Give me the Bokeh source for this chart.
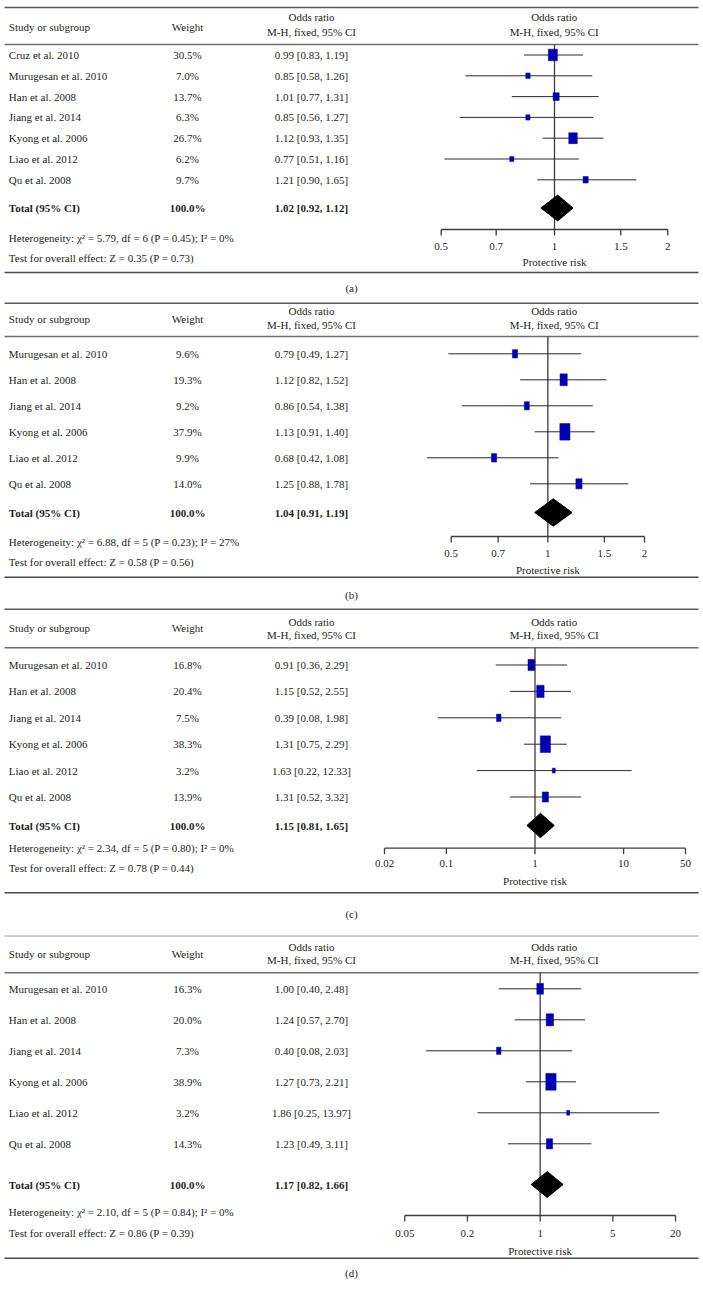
import math
from bokeh.plotting import figure
from bokeh.models import Range1d, LogScale, ColumnDataSource
from bokeh.core.properties import value
from bokeh.embed import file_html
from bokeh.resources import INLINE

# ---------------- data ----------------
a_studies = ["Cruz et al. 2010", "Murugesan et al. 2010", "Han et al. 2008", "Jiang et al. 2014",
             "Kyong et al. 2006", "Liao et al. 2012", "Qu et al. 2008"]
a_weight = [30.5, 7.0, 13.7, 6.3, 26.7, 6.2, 9.7]
a_or = [0.99, 0.85, 1.01, 0.85, 1.12, 0.77, 1.21]
a_lo = [0.83, 0.58, 0.77, 0.56, 0.93, 0.51, 0.90]
a_hi = [1.19, 1.26, 1.31, 1.27, 1.35, 1.16, 1.65]
a_total = [1.02, 0.92, 1.12]
a_het = "Heterogeneity: χ² = 5.79, df = 6 (P = 0.45); I² = 0%"
a_test = "Test for overall effect: Z = 0.35 (P = 0.73)"
a_ticks = [0.5, 0.7, 1, 1.5, 2]

bcd_studies = ["Murugesan et al. 2010", "Han et al. 2008", "Jiang et al. 2014",
               "Kyong et al. 2006", "Liao et al. 2012", "Qu et al. 2008"]

b_weight = [9.6, 19.3, 9.2, 37.9, 9.9, 14.0]
b_or = [0.79, 1.12, 0.86, 1.13, 0.68, 1.25]
b_lo = [0.49, 0.82, 0.54, 0.91, 0.42, 0.88]
b_hi = [1.27, 1.52, 1.38, 1.40, 1.08, 1.78]
b_total = [1.04, 0.91, 1.19]
b_het = "Heterogeneity: χ² = 6.88, df = 5 (P = 0.23); I² = 27%"
b_test = "Test for overall effect: Z = 0.58 (P = 0.56)"
b_ticks = [0.5, 0.7, 1, 1.5, 2]

c_weight = [16.8, 20.4, 7.5, 38.3, 3.2, 13.9]
c_or = [0.91, 1.15, 0.39, 1.31, 1.63, 1.31]
c_lo = [0.36, 0.52, 0.08, 0.75, 0.22, 0.52]
c_hi = [2.29, 2.55, 1.98, 2.29, 12.33, 3.32]
c_total = [1.15, 0.81, 1.65]
c_het = "Heterogeneity: χ² = 2.34, df = 5 (P = 0.80); I² = 0%"
c_test = "Test for overall effect: Z = 0.78 (P = 0.44)"
c_ticks = [0.02, 0.1, 1, 10, 50]

d_weight = [16.3, 20.0, 7.3, 38.9, 3.2, 14.3]
d_or = [1.00, 1.24, 0.40, 1.27, 1.86, 1.23]
d_lo = [0.40, 0.57, 0.08, 0.73, 0.25, 0.49]
d_hi = [2.48, 2.70, 2.03, 2.21, 13.97, 3.11]
d_total = [1.17, 0.82, 1.66]
d_het = "Heterogeneity: χ² = 2.10, df = 5 (P = 0.84); I² = 0%"
d_test = "Test for overall effect: Z = 0.86 (P = 0.39)"
d_ticks = [0.05, 0.2, 1, 5, 20]

panel_labels = ["(a)", "(b)", "(c)", "(d)"]
hdr_study = "Study or subgroup"
hdr_weight = "Weight"
hdr_or1 = "Odds ratio"
hdr_or2 = "M-H, fixed, 95% CI"
total_label = "Total (95% CI)"
total_weight = "100.0%"
axis_title = "Protective risk"

panels = [
    dict(studies=a_studies, w=a_weight, orr=a_or, lo=a_lo, hi=a_hi, tot=a_total, het=a_het, test=a_test, ticks=a_ticks),
    dict(studies=bcd_studies, w=b_weight, orr=b_or, lo=b_lo, hi=b_hi, tot=b_total, het=b_het, test=b_test, ticks=b_ticks),
    dict(studies=bcd_studies, w=c_weight, orr=c_or, lo=c_lo, hi=c_hi, tot=c_total, het=c_het, test=c_test, ticks=c_ticks),
    dict(studies=bcd_studies, w=d_weight, orr=d_or, lo=d_lo, hi=d_hi, tot=d_total, het=d_het, test=d_test, ticks=d_ticks),
]

# ---------------- layout (pixel positions on the page) ----------------
layouts = [
    dict(top=7, top_col="#5a5a5a", top_w=1.4, oddsy=16.5, hdry=26, mhy=31.5, hline=44, row0=54.5, step=20.8,
         toty=207.5, hety=237, testy=257, axy=229, ticky=245.7, proty=261.7, bot=272, laby=287,
         px=(440.7, 667.3), hf=2.1, dh=13),
    dict(top=302.7, top_col="#5a5a5a", top_w=1.4, oddsy=310.7, hdry=318.3, mhy=324, hline=336, row0=353.3, step=26,
         toty=512, hety=541.7, testy=561.7, axy=536, ticky=553.3, proty=569.3, bot=576.7, laby=594,
         px=(450.7, 644.0), hf=2.7, dh=13.7),
    dict(top=608.7, top_col="#5a5a5a", top_w=1.4, oddsy=621.3, hdry=627.3, mhy=634.3, hline=647.3, row0=664.5, step=26.4,
         toty=825, hety=847.7, testy=867.3, axy=847.7, ticky=863.3, proty=880, bot=892.3, laby=913.3,
         px=(384.0, 685.0), hf=2.7, dh=12.2),
    dict(top=935.5, top_col="#9a9a9a", top_w=1.0, oddsy=946, hdry=953.3, mhy=959.3, hline=972.3, row0=988.3, step=31,
         toty=1184, hety=1211, testy=1232, axy=1215, ticky=1232.7, proty=1250, bot=1257.7, laby=1272.7,
         px=(404.3, 675.0), hf=2.7, dh=13),
]

W, H = 703, 1295
TXT = "#231f20"
FONT = value("Liberation Serif")
FS = "11px"
SQ = "#0000b0"

extra_ranges = {}
extra_scales = {}
for i, (pn, lay) in enumerate(zip(panels, layouts)):
    t0, t1 = pn["ticks"][0], pn["ticks"][-1]
    p0, p1 = lay["px"]
    dec = (p1 - p0) / math.log10(t1 / t0)
    start = t0 * 10 ** ((0 - p0) / dec)
    end = t0 * 10 ** ((W - p0) / dec)
    extra_ranges["log%d" % i] = Range1d(start, end)
    extra_scales["log%d" % i] = LogScale()

p = figure(width=W, height=H, x_range=Range1d(0, W), y_range=Range1d(H, 0),
           output_backend="svg", toolbar_location=None, x_axis_location=None, y_axis_location=None,
           min_border=0, outline_line_color=None,
           extra_x_ranges=extra_ranges, extra_x_scales=extra_scales)
p.grid.visible = False
p.background_fill_color = "white"


def txt(x, y, texts, align="left", bold=False, rn="default", size=FS):
    n = len(texts)
    xs = x if isinstance(x, list) else [x] * n
    ys = y if isinstance(y, list) else [y] * n
    src = ColumnDataSource(dict(x=xs, y=ys, t=texts))
    p.text(x="x", y="y", text="t", source=src, text_font=FONT, text_font_size=size,
           text_align=align, text_baseline="middle", text_color=TXT,
           text_font_style="bold" if bold else "normal", x_range_name=rn)


for i, (pn, lay) in enumerate(zip(panels, layouts)):
    rn = "log%d" % i
    n = len(pn["studies"])
    rows = [lay["row0"] + k * lay["step"] for k in range(n)]

    # rules
    p.segment(x0=[4], x1=[698], y0=[lay["top"]], y1=[lay["top"]], line_color=lay["top_col"], line_width=lay["top_w"])
    p.segment(x0=[4], x1=[698], y0=[lay["hline"]], y1=[lay["hline"]], line_color="#6e6e6e", line_width=1.5)
    p.segment(x0=[4], x1=[698], y0=[lay["bot"]], y1=[lay["bot"]], line_color="#4a4a4a", line_width=1.5)

    # headers
    txt(8.3, lay["hdry"], [hdr_study])
    txt(187, lay["hdry"], [hdr_weight], align="center")
    txt(311, lay["oddsy"], [hdr_or1], align="center")
    txt(311, lay["mhy"], [hdr_or2], align="center")
    txt(553.7, lay["oddsy"], [hdr_or1], align="center")
    txt(553.7, lay["mhy"], [hdr_or2], align="center")

    # study rows
    txt(8.3, rows, pn["studies"])
    txt(187, rows, ["%.1f%%" % w for w in pn["w"]], align="center")
    txt(311, rows, ["%.2f [%.2f, %.2f]" % (o, l, h) for o, l, h in zip(pn["orr"], pn["lo"], pn["hi"])],
        align="center")

    # total row
    to, tl, th = pn["tot"]
    txt(8.3, lay["toty"], [total_label], bold=True)
    txt(187, lay["toty"], [total_weight], align="center", bold=True)
    txt(311, lay["toty"], ["%.2f [%.2f, %.2f]" % (to, tl, th)], align="center", bold=True)

    txt(8.3, lay["hety"], [pn["het"]])
    txt(8.3, lay["testy"], [pn["test"]])
    txt(351, lay["laby"], [panel_labels[i]], align="center")

    # reference line at 1
    p.segment(x0=[1], x1=[1], y0=[lay["hline"]], y1=[lay["axy"]], line_color="#3c3c3c", line_width=1.3,
              x_range_name=rn)

    # CI lines
    p.segment(x0=pn["lo"], x1=pn["hi"], y0=rows, y1=rows, line_color="#2a2a2a", line_width=1.0,
              x_range_name=rn)

    # squares
    sq = ColumnDataSource(dict(x=pn["orr"], y=rows,
                               w=[1.65 * math.sqrt(w) for w in pn["w"]],
                               h=[lay["hf"] * math.sqrt(w) for w in pn["w"]]))
    p.rect(x="x", y="y", width="w", height="h", width_units="screen", height_units="screen",
           source=sq, fill_color=SQ, line_color=SQ, line_width=0.5, x_range_name=rn)

    # diamond
    ty, dh = lay["toty"], lay["dh"]
    p.patch(x=[tl, to, th, to], y=[ty, ty - dh, ty, ty + dh], fill_color="black", line_color="black",
            x_range_name=rn)

    # axis
    tk = pn["ticks"]
    p.segment(x0=[tk[0]], x1=[tk[-1]], y0=[lay["axy"]], y1=[lay["axy"]], line_color="#3c3c3c",
              line_width=1.3, x_range_name=rn)
    p.segment(x0=tk, x1=tk, y0=[lay["axy"]] * len(tk), y1=[lay["axy"] + 6] * len(tk),
              line_color="#3c3c3c", line_width=1.3, x_range_name=rn)
    txt(tk, lay["ticky"], ["%g" % t for t in tk], align="center", rn=rn)
    txt(1, lay["proty"], [axis_title], align="center", rn=rn)

open("out.html", "w").write(file_html(p, INLINE))
